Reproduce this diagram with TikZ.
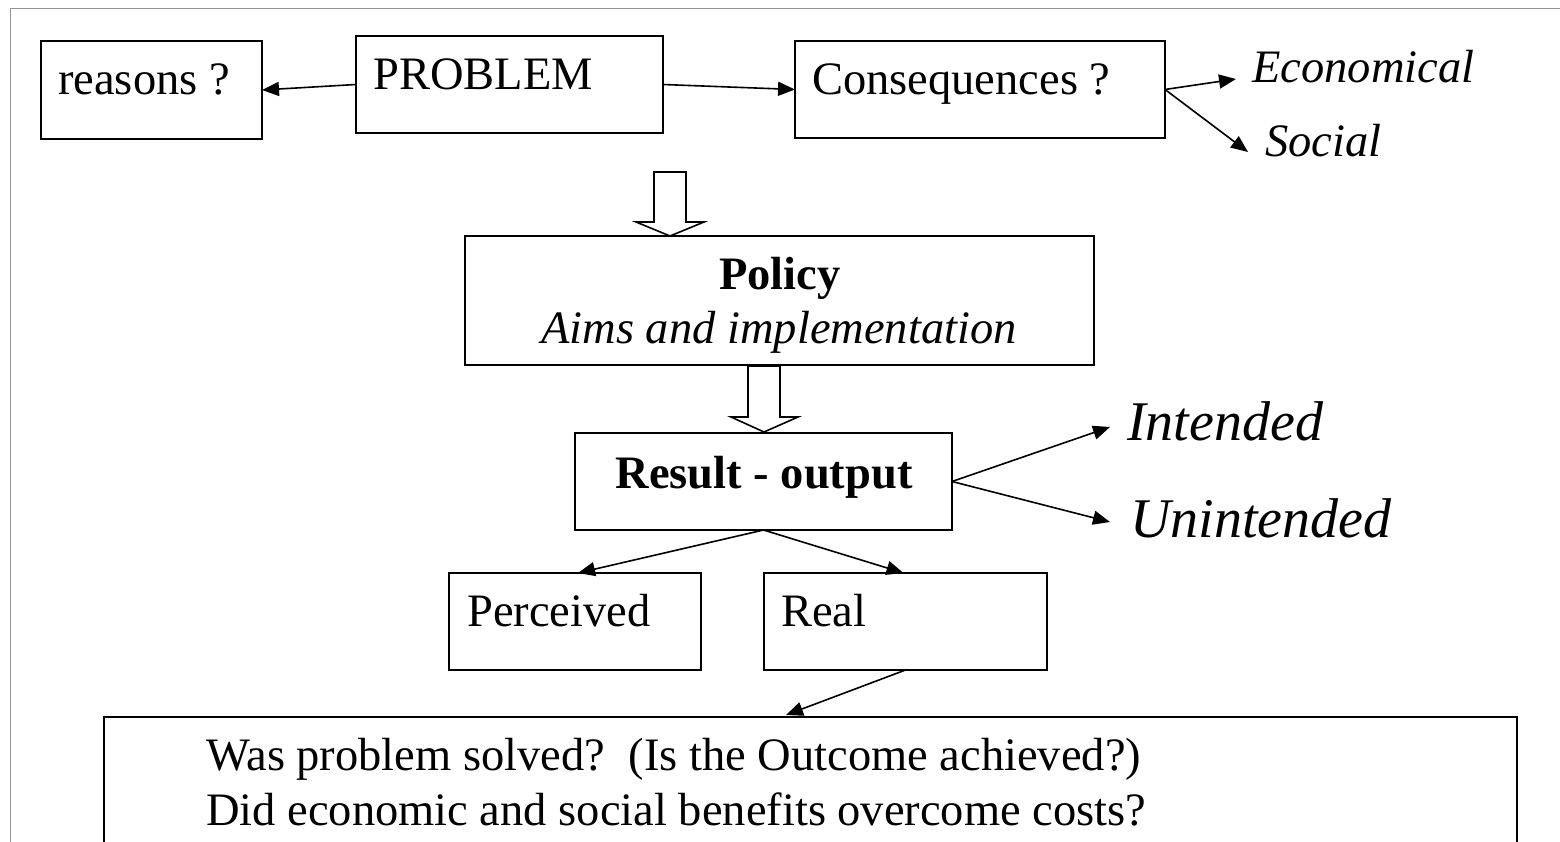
\documentclass[tikz,border=0pt]{standalone}
\usepackage{fontspec}
\setmainfont{Liberation Serif}
\usetikzlibrary{arrows.meta}
\begin{document}
\begin{tikzpicture}[x=1pt,y=-1pt,
  box/.style={draw=black, line width=1.6pt, anchor=north west, inner sep=0pt, outer sep=0pt},
  txt/.style={inner sep=0pt, font=\fontsize{46.5}{56}\selectfont},
  big/.style={inner sep=0pt, font=\fontsize{56}{66}\selectfont\itshape},
  conn/.style={line width=1.6pt, -{Triangle[length=17pt,width=14pt]}},
  hollow/.style={draw=black, line width=1.6pt, fill=white, line join=miter}]
\useasboundingbox (0,0) rectangle (1560,842);
\clip (0,0) rectangle (1560,842);
\fill[white] (0,0) rectangle (1560,842);
% frame
\draw[color=black!42, line width=1.6pt] (10.5,850) -- (10.5,8.5) -- (1570,8.5);

% boxes
\node[box, minimum width=221pt, minimum height=98pt] (reasons) at (41,41) {};
\node[box, minimum width=307pt, minimum height=97pt] (problem) at (356,36) {};
\node[box, minimum width=370pt, minimum height=97pt] (cons) at (795,41) {};
\node[box, minimum width=629pt, minimum height=129pt] (policy) at (465,236) {};
\node[box, minimum width=377pt, minimum height=97pt] (result) at (575,433) {};
\node[box, minimum width=252pt, minimum height=97pt] (perc) at (449,573) {};
\node[box, minimum width=283pt, minimum height=97pt] (real) at (764,573) {};
\node[box, minimum width=1413pt, minimum height=160pt] (bottom) at (104,717) {};

% texts
\node[txt, anchor=base west] (treasons) at (58,95) {reasons ?};
\node[txt, anchor=base west] (tproblem) at (373,90) {PROBLEM};
\node[txt, anchor=base west] (tcons) at (812,95) {Consequences ?};
\node[txt, anchor=base west, font=\fontsize{46.5}{56}\selectfont\itshape] (econ) at (1252,83) {Economical};
\node[txt, anchor=base west, font=\fontsize{46.5}{56}\selectfont\itshape] (social) at (1265,157) {Social};
\node[txt, anchor=base, font=\fontsize{46.5}{56}\selectfont\bfseries] (tpolicy) at (780,290) {Policy};
\node[txt, anchor=base, font=\fontsize{46.5}{56}\selectfont\itshape] (taims) at (779,343) {Aims and implementation};
\node[txt, anchor=base, font=\fontsize{46.5}{56}\selectfont\bfseries] (tresult) at (764,488) {Result - output};
\node[big, anchor=base west] (intended) at (1127,440) {Intended};
\node[big, anchor=base west] (unintended) at (1130,537) {Unintended};
\node[txt, anchor=base west] (tperc) at (467,626) {Perceived};
\node[txt, anchor=base west] (treal) at (781,626) {Real};
\node[txt, anchor=base west] (tl1) at (206,770) {Was problem solved?\ \ (Is the Outcome achieved?)};
\node[txt, anchor=base west] (tl2) at (206,825) {Did economic and social benefits overcome costs?};

% connector end points
\coordinate (econtip) at (1236,79);
\coordinate (socialtip) at (1248,152);
\coordinate (intip) at (1110,427);
\coordinate (untip) at (1110,522);
\coordinate (botin) at (786,715);

% connectors
\draw[conn] (problem.west) -- (reasons.east);
\draw[conn] (problem.east) -- (cons.west);
\draw[conn] (cons.east) -- (econtip);
\draw[conn] (cons.east) -- (socialtip);
\draw[conn] (result.east) -- (intip);
\draw[conn] (result.east) -- (untip);
\draw[conn] (result.south) -- ([xshift=3pt]perc.north);
\draw[conn] (result.south) -- ([xshift=-2pt]real.north);
\draw[conn] (real.south) -- (botin);

% hollow block arrows
\draw[hollow] (654,172) -- (686,172) -- (686,222) -- (704,222) -- (670,236) -- (636,222) -- (654,222) -- cycle;
\draw[hollow] (748,366) -- (780,366) -- (780,417) -- (798,417) -- (764,432) -- (731,417) -- (748,417) -- cycle;
\end{tikzpicture}
\end{document}
